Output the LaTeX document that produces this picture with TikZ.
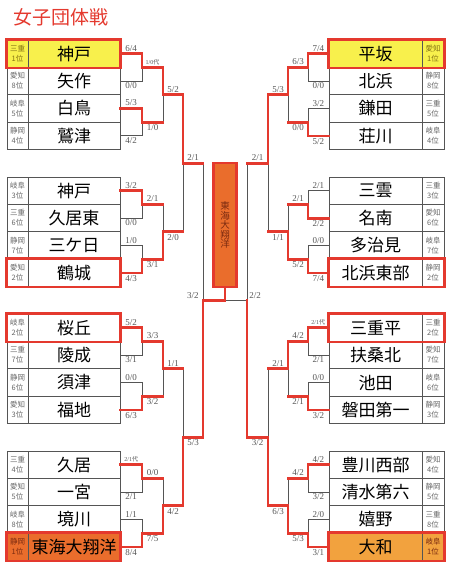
\documentclass[tikz,border=0pt]{standalone}
\usepackage{fontspec}
\setmainfont{Liberation Serif}
\newfontfamily\jpfont{Noto Sans CJK JP}
\definecolor{lred}{HTML}{E4392E}
\definecolor{lgray}{HTML}{555555}
\definecolor{prefgray}{HTML}{666666}
\definecolor{seedyellow}{HTML}{F8F04C}
\definecolor{seedorange}{HTML}{EA6D2C}
\definecolor{seedamber}{HTML}{F2A23E}
\definecolor{olivetext}{HTML}{857314}
\definecolor{browntext}{HTML}{7A2A10}

\begin{document}
\begin{tikzpicture}[
  x=1pt, y=-1pt,
  team/.style={rectangle, draw=lgray, line width=0.9pt, minimum width=92, minimum height=27.4,
               inner sep=0pt, font=\jpfont\fontsize{17}{18}\selectfont},
  rteam/.style={team, minimum width=93},
  pref/.style={rectangle, draw=lgray, line width=0.9pt, minimum width=21, minimum height=27.4,
               inner sep=0pt, align=center, text=prefgray, font=\jpfont\fontsize{7.5}{10}\selectfont},
  rpref/.style={pref, minimum width=22},
  win/.style={draw=lred, line width=2.8pt, line cap=rect},
  lose/.style={draw=lgray, line width=1pt},
  sc/.style={inner sep=1.2pt, text=lgray, font=\fontsize{9}{9.5}\selectfont},
  scs/.style={sc, font=\fontsize{6}{7}\selectfont},
  hl/.style={draw=lred, line width=2.6pt}
]
  \useasboundingbox (0,0) rectangle (455,576);
  \node[text=lred, font=\jpfont\fontsize{19}{20}\selectfont, anchor=west] (title) at (10,17) {女子団体戦};

  % left teams
  \node[team, fill=seedyellow] (L1) at (74,53.7) {神戸};
  \node[pref, fill=seedyellow, text=olivetext] (LP1) at (17.5,53.7) {三重\\1位};
  \node[team] (L2) at (74,81.1) {矢作};
  \node[pref] (LP2) at (17.5,81.1) {愛知\\8位};
  \node[team] (L3) at (74,108.5) {白鳥};
  \node[pref] (LP3) at (17.5,108.5) {岐阜\\5位};
  \node[team] (L4) at (74,135.9) {鷲津};
  \node[pref] (LP4) at (17.5,135.9) {静岡\\4位};
  \node[team] (L5) at (74,190.7) {神戸};
  \node[pref] (LP5) at (17.5,190.7) {岐阜\\3位};
  \node[team] (L6) at (74,218.1) {久居東};
  \node[pref] (LP6) at (17.5,218.1) {三重\\6位};
  \node[team] (L7) at (74,245.5) {三ケ日};
  \node[pref] (LP7) at (17.5,245.5) {静岡\\7位};
  \node[team] (L8) at (74,272.9) {鶴城};
  \node[pref] (LP8) at (17.5,272.9) {愛知\\2位};
  \node[team] (L9) at (74,327.7) {桜丘};
  \node[pref] (LP9) at (17.5,327.7) {岐阜\\2位};
  \node[team] (L10) at (74,355.1) {陵成};
  \node[pref] (LP10) at (17.5,355.1) {三重\\7位};
  \node[team] (L11) at (74,382.5) {須津};
  \node[pref] (LP11) at (17.5,382.5) {静岡\\6位};
  \node[team] (L12) at (74,409.9) {福地};
  \node[pref] (LP12) at (17.5,409.9) {愛知\\3位};
  \node[team] (L13) at (74,464.7) {久居};
  \node[pref] (LP13) at (17.5,464.7) {三重\\4位};
  \node[team] (L14) at (74,492.1) {一宮};
  \node[pref] (LP14) at (17.5,492.1) {愛知\\5位};
  \node[team] (L15) at (74,519.5) {境川};
  \node[pref] (LP15) at (17.5,519.5) {岐阜\\8位};
  \node[team, fill=seedorange] (L16) at (74,546.9) {東海大翔洋};
  \node[pref, fill=seedorange, text=browntext] (LP16) at (17.5,546.9) {静岡\\1位};

  % right teams
  \node[rteam, fill=seedyellow] (R1) at (375.5,53.7) {平坂};
  \node[rpref, fill=seedyellow, text=olivetext] (RP1) at (433,53.7) {愛知\\1位};
  \node[rteam] (R2) at (375.5,81.1) {北浜};
  \node[rpref] (RP2) at (433,81.1) {静岡\\8位};
  \node[rteam] (R3) at (375.5,108.5) {鎌田};
  \node[rpref] (RP3) at (433,108.5) {三重\\5位};
  \node[rteam] (R4) at (375.5,135.9) {荘川};
  \node[rpref] (RP4) at (433,135.9) {岐阜\\4位};
  \node[rteam] (R5) at (375.5,190.7) {三雲};
  \node[rpref] (RP5) at (433,190.7) {三重\\3位};
  \node[rteam] (R6) at (375.5,218.1) {名南};
  \node[rpref] (RP6) at (433,218.1) {愛知\\6位};
  \node[rteam] (R7) at (375.5,245.5) {多治見};
  \node[rpref] (RP7) at (433,245.5) {岐阜\\7位};
  \node[rteam] (R8) at (375.5,272.9) {北浜東部};
  \node[rpref] (RP8) at (433,272.9) {静岡\\2位};
  \node[rteam] (R9) at (375.5,327.7) {三重平};
  \node[rpref] (RP9) at (433,327.7) {三重\\2位};
  \node[rteam] (R10) at (375.5,355.1) {扶桑北};
  \node[rpref] (RP10) at (433,355.1) {愛知\\7位};
  \node[rteam] (R11) at (375.5,382.5) {池田};
  \node[rpref] (RP11) at (433,382.5) {岐阜\\6位};
  \node[rteam] (R12) at (375.5,409.9) {磐田第一};
  \node[rpref] (RP12) at (433,409.9) {静岡\\3位};
  \node[rteam] (R13) at (375.5,464.7) {豊川西部};
  \node[rpref] (RP13) at (433,464.7) {愛知\\4位};
  \node[rteam] (R14) at (375.5,492.1) {清水第六};
  \node[rpref] (RP14) at (433,492.1) {静岡\\5位};
  \node[rteam] (R15) at (375.5,519.5) {嬉野};
  \node[rpref] (RP15) at (433,519.5) {三重\\8位};
  \node[rteam, fill=seedamber] (R16) at (375.5,546.9) {大和};
  \node[rpref, fill=seedamber, text=browntext] (RP16) at (433,546.9) {岐阜\\1位};

  % junctions
  \coordinate (la1) at (142,67.4);  \coordinate (la2) at (142,122.2);
  \coordinate (la3) at (142,204.4); \coordinate (la4) at (142,259.2);
  \coordinate (la5) at (142,341.4); \coordinate (la6) at (142,396.2);
  \coordinate (la7) at (142,478.4); \coordinate (la8) at (142,533.2);
  \coordinate (lb1) at (163,94.8);  \coordinate (lb2) at (163,231.8);
  \coordinate (lb3) at (163,368.8); \coordinate (lb4) at (163,505.8);
  \coordinate (lc1) at (183,163.3); \coordinate (lc2) at (183,437.3);
  \coordinate (ld) at (203,300.3);
  \coordinate (ra1) at (308,67.4);  \coordinate (ra2) at (308,122.2);
  \coordinate (ra3) at (308,204.4); \coordinate (ra4) at (308,259.2);
  \coordinate (ra5) at (308,341.4); \coordinate (ra6) at (308,396.2);
  \coordinate (ra7) at (308,478.4); \coordinate (ra8) at (308,533.2);
  \coordinate (rb1) at (288,94.8);  \coordinate (rb2) at (288,231.8);
  \coordinate (rb3) at (288,368.8); \coordinate (rb4) at (288,505.8);
  \coordinate (rc1) at (268,163.3); \coordinate (rc2) at (268,437.3);
  \coordinate (rd) at (247,300.3);
  \coordinate (fin) at (225,300.3);

  \node[rectangle, draw=lred, line width=2.2pt, fill=seedorange, minimum width=23, minimum height=124,
        inner sep=0pt, align=center, text=browntext, font=\jpfont\fontsize{9.5}{9.6}\selectfont]
        (champ) at (225,225) {東\\海\\大\\翔\\洋};

  % lost matches
  \draw[lose] (L2.east) -| node[sc, below, pos=0.25] (ls2) {0/0} (la1);
  \draw[lose] (L4.east) -| node[sc, below, pos=0.25] (ls4) {4/2} (la2);
  \draw[lose] (L6.east) -| node[sc, below, pos=0.25] (ls6) {0/0} (la3);
  \draw[lose] (L7.east) -| node[sc, above, pos=0.25] (ls7) {1/0} (la4);
  \draw[lose] (L10.east) -| node[sc, below, pos=0.25] (ls10) {3/1} (la5);
  \draw[lose] (L11.east) -| node[sc, above, pos=0.25] (ls11) {0/0} (la6);
  \draw[lose] (L14.east) -| node[sc, below, pos=0.25] (ls14) {2/1} (la7);
  \draw[lose] (L15.east) -| node[sc, above, pos=0.25] (ls15) {1/1} (la8);
  \draw[lose] (la2 -| lb1) -- (lb1);
  \draw[lose] (la3 -| lb2) -- (lb2);
  \draw[lose] (la6 -| lb3) -- (lb3);
  \draw[lose] (la7 -| lb4) -- (lb4);
  \draw[lose] (lb2 -| lc1) -- (lc1);
  \draw[lose] (lb3 -| lc2) -- (lc2);
  \draw[lose] (lc1 -| ld) -- (ld);

  \draw[lose] (R2.west) -| node[sc, below, pos=0.25] (rs2) {0/0} (ra1);
  \draw[lose] (R3.west) -| node[sc, above, pos=0.25] (rs3) {3/2} (ra2);
  \draw[lose] (R5.west) -| node[sc, above, pos=0.25] (rs5) {2/1} (ra3);
  \draw[lose] (R7.west) -| node[sc, above, pos=0.25] (rs7) {0/0} (ra4);
  \draw[lose] (R10.west) -| node[sc, below, pos=0.25] (rs10) {2/1} (ra5);
  \draw[lose] (R11.west) -| node[sc, above, pos=0.25] (rs11) {0/0} (ra6);
  \draw[lose] (R14.west) -| node[sc, below, pos=0.25] (rs14) {3/2} (ra7);
  \draw[lose] (R15.west) -| node[sc, above, pos=0.25] (rs15) {2/0} (ra8);
  \draw[lose] (ra2 -| rb1) -- (rb1);
  \draw[lose] (ra3 -| rb2) -- (rb2);
  \draw[lose] (ra6 -| rb3) -- (rb3);
  \draw[lose] (ra7 -| rb4) -- (rb4);
  \draw[lose] (rb2 -| rc1) -- (rc1);
  \draw[lose] (rb3 -| rc2) -- (rc2);
  \draw[lose] (rc1 -| rd) -- (rd);
  \draw[lose] (rd) -- (fin);

  % winners, left
  \draw[win] (L1.east) -| node[sc, above, pos=0.25] (ls1) {6/4} (la1);
  \draw[win] (L3.east) -| node[sc, above, pos=0.25] (ls3) {5/3} (la2);
  \draw[win] (L5.east) -| node[sc, above, pos=0.25] (ls5) {3/2} (la3);
  \draw[win] (L8.east) -| node[sc, below, pos=0.25] (ls8) {4/3} (la4);
  \draw[win] (L9.east) -| node[sc, above, pos=0.25] (ls9) {5/2} (la5);
  \draw[win] (L12.east) -| node[sc, below, pos=0.25] (ls12) {6/3} (la6);
  \draw[win] (L13.east) -| node[scs, above, pos=0.25] (ls13) {2/1{\jpfont 代}} (la7);
  \draw[win] (L16.east) -| node[sc, below, pos=0.25] (ls16) {8/4} (la8);
  \draw[win] (la1) -| node[scs, above, pos=0.25] (lt1) {1/0{\jpfont 代}} (lb1);
  \draw[win] (la2) -- node[sc, below] (lt2) {1/0} (la2 -| lb1);
  \draw[win] (la3) -- node[sc, above] (lt3) {2/1} (la3 -| lb2);
  \draw[win] (la4) -| node[sc, below, pos=0.25] (lt4) {3/1} (lb2);
  \draw[win] (la5) -| node[sc, above, pos=0.25] (lt5) {3/3} (lb3);
  \draw[win] (la6) -- node[sc, below] (lt6) {3/2} (la6 -| lb3);
  \draw[win] (la7) -- node[sc, above] (lt7) {0/0} (la7 -| lb4);
  \draw[win] (la8) -| node[sc, below, pos=0.25] (lt8) {7/5} (lb4);
  \draw[win] (lb1) -| node[sc, above, pos=0.25] (lq1) {5/2} (lc1);
  \draw[win] (lb2) -- node[sc, below] (lq2) {2/0} (lb2 -| lc1);
  \draw[win] (lb3) -- node[sc, above] (lq3) {1/1} (lb3 -| lc2);
  \draw[win] (lb4) -| node[sc, below, pos=0.25] (lq4) {4/2} (lc2);
  \draw[win] (lc1) -- node[sc, above] (lsf1) {2/1} (lc1 -| ld);
  \draw[win] (lc2) -| node[sc, below, pos=0.25] (lsf2) {5/3} (ld);

  % winners, right
  \draw[win] (R1.west) -| node[sc, above, pos=0.25] (rs1) {7/4} (ra1);
  \draw[win] (R4.west) -| node[sc, below, pos=0.25] (rs4) {5/2} (ra2);
  \draw[win] (R6.west) -| node[sc, below, pos=0.25] (rs6) {2/2} (ra3);
  \draw[win] (R8.west) -| node[sc, below, pos=0.25] (rs8) {7/4} (ra4);
  \draw[win] (R9.west) -| node[scs, above, pos=0.25] (rs9) {2/1{\jpfont 代}} (ra5);
  \draw[win] (R12.west) -| node[sc, below, pos=0.25] (rs12) {3/2} (ra6);
  \draw[win] (R13.west) -| node[sc, above, pos=0.25] (rs13) {4/2} (ra7);
  \draw[win] (R16.west) -| node[sc, below, pos=0.25] (rs16) {3/1} (ra8);
  \draw[win] (ra1) -| node[sc, above, pos=0.25] (rt1) {6/3} (rb1);
  \draw[win] (ra2) -- node[sc, below] (rt2) {0/0} (ra2 -| rb1);
  \draw[win] (ra3) -- node[sc, above] (rt3) {2/1} (ra3 -| rb2);
  \draw[win] (ra4) -| node[sc, below, pos=0.25] (rt4) {5/2} (rb2);
  \draw[win] (ra5) -| node[sc, above, pos=0.25] (rt5) {4/2} (rb3);
  \draw[win] (ra6) -- node[sc, below] (rt6) {2/1} (ra6 -| rb3);
  \draw[win] (ra7) -- node[sc, above] (rt7) {4/2} (ra7 -| rb4);
  \draw[win] (ra8) -| node[sc, below, pos=0.25] (rt8) {5/3} (rb4);
  \draw[win] (rb1) -| node[sc, above, pos=0.25] (rq1) {5/3} (rc1);
  \draw[win] (rb2) -- node[sc, below] (rq2) {1/1} (rb2 -| rc1);
  \draw[win] (rb3) -- node[sc, above] (rq3) {2/1} (rb3 -| rc2);
  \draw[win] (rb4) -| node[sc, below, pos=0.25] (rq4) {6/3} (rc2);
  \draw[win] (rc1) -- node[sc, above] (rsf1) {2/1} (rc1 -| rd);
  \draw[win] (rc2) -| node[sc, below, pos=0.25] (rsf2) {3/2} (rd);

  % final
  \draw[win] (ld) -- (fin);
  \draw[win] (champ.south) -- (fin);
  \node[sc, anchor=south east] (lfin) at ([xshift=-3pt]ld) {3/2};
  \node[sc, anchor=south west] (rfin) at ([xshift=1pt]rd) {2/2};

  % seeds
  \draw[hl] (LP1.north west) rectangle (L1.south east);
  \draw[hl] (LP8.north west) rectangle (L8.south east);
  \draw[hl] (LP9.north west) rectangle (L9.south east);
  \draw[hl] (LP16.north west) rectangle (L16.south east);
  \draw[hl] (R1.north west) rectangle (RP1.south east);
  \draw[hl] (R8.north west) rectangle (RP8.south east);
  \draw[hl] (R9.north west) rectangle (RP9.south east);
  \draw[hl] (R16.north west) rectangle (RP16.south east);
\end{tikzpicture}
\end{document}
